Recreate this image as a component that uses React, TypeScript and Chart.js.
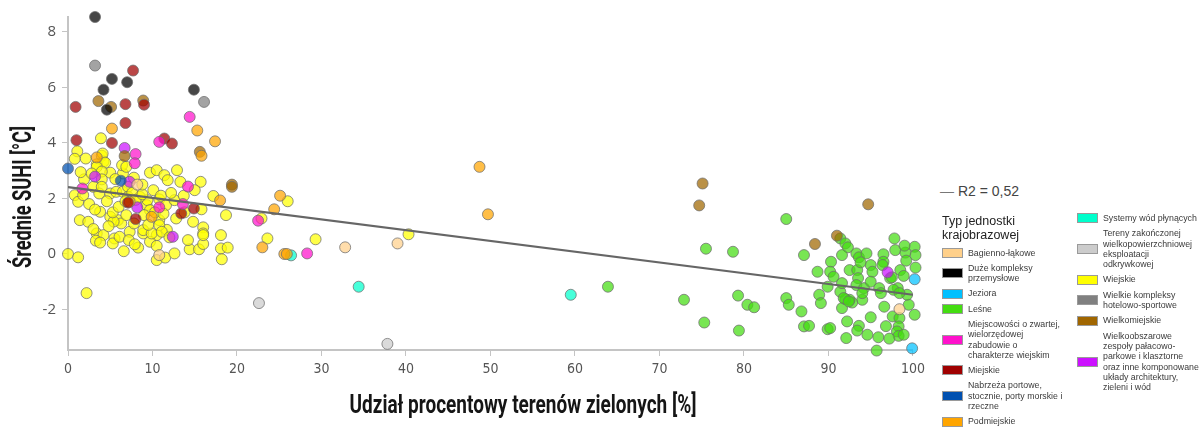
import React, { useEffect, useLayoutEffect, useRef } from "react";
import { Chart, registerables } from "chart.js";

Chart.register(...registerables);

// ---------- data ----------
const xTickValues = [0, 10, 20, 30, 40, 50, 60, 70, 80, 90, 100];
const yTickValues = [-2, 0, 2, 4, 6, 8];
const xTitle = "Udział procentowy terenów zielonych [%]";
const yTitle = "Średnie SUHI [°C]";
const trendLabel = "R2 = 0,52";
const trendX = [0, 100];
const trendY = [2.41, -1.47];

const bagiennoLakowe = [[8.2, 2.5], [10.8, -0.04], [32.8, 0.24], [39.0, 0.38], [98.4, -1.99]];
const duzeKompleksy = [[3.2, 8.54], [5.2, 6.31], [7.0, 6.19], [4.2, 5.92], [4.6, 5.2], [14.9, 5.92]];
const jeziora = [[100.2, -0.91], [99.9, -3.4]];
const lesne = [
  [75.5, 0.19], [78.7, 0.08], [63.9, -1.18], [72.9, -1.65], [79.3, -1.5], [75.3, -2.47], [79.4, -2.76],
  [80.4, -1.83], [81.2, -1.92], [85.0, 1.26], [91.4, 0.56], [92.0, 0.38], [92.3, 0.24], [87.1, -0.04],
  [85.0, -1.59], [85.3, -1.83], [86.8, -2.07], [87.1, -2.61], [87.7, -2.59], [89.9, -2.71], [92.1, -3.03],
  [95.7, -3.48], [97.8, 0.56], [100.2, 0.26], [100.3, -0.04], [100.3, -0.49], [100.2, -2.19], [99.5, -1.83],
  [97.9, 0.14], [99.1, 0.05], [99.2, -0.24], [96.5, -0.01], [96.5, -0.28], [97.3, -0.87], [98.5, -0.58],
  [98.9, -0.79], [98.2, -1.23], [99.3, -1.47], [97.6, -2.25], [98.4, -2.31], [98.3, -2.61], [98.1, -2.79],
  [98.3, -2.95], [98.9, -2.91], [96.6, -1.9], [95.0, -2.28], [95.9, -3.0], [94.6, -2.91], [93.6, -2.59],
  [93.4, -2.76], [92.2, -2.43], [90.2, -2.67], [94.0, -1.65], [92.8, -1.75], [91.6, -1.95], [92.5, -1.65],
  [92.0, -1.63], [91.4, -1.36], [90.3, -0.28], [90.2, -0.64], [90.6, -0.82], [91.6, -1.05], [91.6, -0.04],
  [93.3, 0.02], [93.6, -0.12], [94.5, 0.02], [92.5, -0.58], [93.4, -0.58], [93.5, -0.87], [93.3, -1.12],
  [94.2, -1.23], [94.0, -1.41], [95.0, -0.4], [95.2, -0.64], [95.0, -1.0], [96.0, -1.23], [96.2, -1.41],
  [96.4, -0.4], [97.5, -0.84], [97.7, -1.29], [98.4, -1.41], [88.7, -0.64], [89.9, -1.18], [88.9, -1.47],
  [89.1, -1.77], [91.8, -1.59], [92.4, -1.71], [93.8, -0.3], [99.0, 0.3], [96.8, -2.6], [97.2, -3.05]
];
const miejscowosci = [
  [14.4, 4.94], [10.8, 4.04], [8.0, 3.6], [7.9, 3.27], [1.7, 2.36], [14.2, 2.43], [10.8, 1.68],
  [13.6, 1.8], [22.5, 1.2], [28.3, 0.02]
];
const miejskie = [
  [7.7, 6.61], [0.9, 5.3], [6.8, 5.4], [9.0, 5.38], [6.8, 4.72], [1.0, 4.1], [5.2, 4.0], [11.4, 4.16],
  [12.3, 3.98], [7.1, 1.85], [13.4, 1.46], [14.9, 1.64], [8.0, 1.26]
];
const nabrzeza = [[0.0, 3.08], [6.25, 2.64]];
const podmiejskie = [
  [5.2, 4.52], [15.3, 4.45], [17.4, 4.06], [15.8, 3.54], [3.4, 3.48], [18.0, 1.93], [7.3, 1.88],
  [9.9, 1.34], [25.1, 2.1], [24.4, 1.61], [23.0, 0.24], [25.6, 0.0], [25.9, 0.0], [48.7, 3.14], [49.7, 1.43]
];
const systemyWod = [[26.4, -0.05], [34.4, -1.18], [59.5, -1.47]];
const terenyZakonczonej = [[22.6, -1.77], [37.8, -3.24]];
const wiejskie = [
  [1.1, 3.7], [0.8, 3.43], [2.1, 3.44], [3.9, 4.17], [4.0, 3.54], [4.2, 3.33], [3.4, 3.23], [4.1, 3.62],
  [4.4, 3.29], [3.4, 3.14], [5.0, 2.93], [4.0, 2.97], [6.5, 2.9], [6.4, 3.2], [6.9, 3.14], [4.0, 2.69],
  [9.7, 2.93], [10.5, 3.02], [11.4, 2.84], [11.8, 2.66], [12.9, 3.02], [15.7, 2.6], [17.2, 2.09], [18.7, 1.4],
  [1.9, 2.69], [0.8, 2.12], [1.2, 1.88], [1.8, 2.12], [3.0, 2.42], [3.7, 2.18], [4.0, 2.42], [5.0, 2.18],
  [5.7, 2.24], [6.5, 2.24], [7.1, 2.42], [7.1, 2.06], [10.1, 2.3], [10.8, 1.97], [11.6, 1.76], [9.3, 1.76],
  [9.4, 1.94], [12.6, 1.94], [15.8, 1.61], [14.8, 1.16], [16.0, 0.96], [16.0, 0.74], [12.8, 1.28], [3.8, 1.52],
  [5.0, 1.34], [5.9, 1.22], [1.4, 1.22], [2.4, 1.16], [3.4, 0.74], [4.2, 0.68], [6.3, 1.1], [6.9, 1.4],
  [8.5, 2.06], [9.7, 1.58], [10.8, 1.22], [7.3, 0.8], [8.9, 0.74], [10.5, 0.68], [11.7, 0.87], [5.5, 0.56],
  [0.0, 0.0], [1.2, -0.12], [2.2, -1.41], [3.3, 0.48], [3.8, 0.41], [5.3, 0.38], [6.1, 0.62], [7.2, 0.5],
  [8.3, 0.23], [9.7, 0.44], [10.5, 0.29], [10.5, -0.22], [11.5, -0.13], [12.6, 0.02], [14.4, 0.17],
  [15.5, 0.17], [16.0, 0.36], [16.0, 0.68], [18.1, 0.68], [18.1, 0.2], [18.9, 0.23], [18.2, -0.19],
  [5.4, 1.17], [8.9, 0.86], [9.9, 0.74], [10.8, 1.04], [11.1, 0.8], [22.9, 1.28], [26.0, 1.9], [23.6, 0.56],
  [29.3, 0.53], [40.3, 0.71], [2.5, 1.8], [3.2, 1.6], [4.6, 1.9], [5.3, 1.5], [6.0, 1.7], [6.8, 1.9],
  [7.6, 2.2], [8.0, 1.95], [8.8, 2.15], [9.0, 1.4], [10.3, 1.5], [11.0, 2.1], [12.2, 2.2], [13.3, 2.6],
  [2.8, 2.9], [5.6, 2.7], [7.8, 2.75], [8.8, 2.5], [1.5, 2.95], [3.0, 0.9], [4.8, 1.0], [7.8, 1.1],
  [9.5, 1.05], [13.8, 1.5], [14.2, 0.5], [15.0, 2.3], [13.7, 2.1], [11.3, 1.45], [12.0, 0.6], [7.9, 0.35],
  [6.6, 0.1]
];
const hotelowoSportowe = [[3.2, 6.79], [16.1, 5.48]];
const wielkomiejskie = [
  [3.6, 5.51], [5.1, 5.3], [8.9, 5.53], [6.7, 3.53], [15.6, 3.68], [19.4, 2.5], [19.4, 2.42],
  [75.1, 2.54], [74.7, 1.75], [94.7, 1.79], [91.0, 0.66], [88.4, 0.36]
];
const wielkoobszarowe = [[7.3, 2.6], [8.2, 1.68], [12.4, 0.62], [97.0, -0.66], [6.7, 3.82], [3.2, 2.79]];

const leftLegendLabels = [
  "Bagienno-łąkowe",
  "Duże kompleksy\nprzemysłowe",
  "Jeziora",
  "Leśne",
  "Miejscowości o zwartej,\nwielorzędowej\nzabudowie o\ncharakterze wiejskim",
  "Miejskie",
  "Nabrzeża portowe,\nstocznie, porty morskie i\nrzeczne",
  "Podmiejskie",
];
const rightLegendLabels = [
  "Systemy wód płynących",
  "Tereny zakończonej\nwielkopowierzchniowej\neksploatacji\nodkrywkowej",
  "Wiejskie",
  "Wielkie kompleksy\nhotelowo-sportowe",
  "Wielkomiejskie",
  "Wielkoobszarowe\nzespoły pałacowo-\nparkowe i klasztorne\noraz inne komponowane\nukłady architektury,\nzieleni i wód",
];
const leftColors = ["#FFD08A", "#000000", "#00C0FF", "#44DD11", "#FF11CC", "#A00000", "#0050B0", "#FFA500"];
const rightColors = ["#00FFCC", "#CCCCCC", "#FFFF00", "#808080", "#A06600", "#CC11FF"];
const leftSeries = [bagiennoLakowe, duzeKompleksy, jeziora, lesne, miejscowosci, miejskie, nabrzeza, podmiejskie];
const rightSeries = [systemyWod, terenyZakonczonej, wiejskie, hotelowoSportowe, wielkomiejskie, wielkoobszarowe];
const legendTitle = "Typ jednostki\nkrajobrazowej";

function hexA(hex: string, a: number) {
  const r = parseInt(hex.slice(1, 3), 16);
  const g = parseInt(hex.slice(3, 5), 16);
  const b = parseInt(hex.slice(5, 7), 16);
  return `rgba(${r},${g},${b},${a})`;
}

const TITLE_FONT = "Roboto, 'Liberation Sans', sans-serif";
const X_TITLE_WIDTH = 347;
const Y_TITLE_WIDTH = 142;

export default function App() {
  const ref = useRef<HTMLCanvasElement | null>(null);
  const xTitleRef = useRef<HTMLSpanElement | null>(null);
  const yTitleRef = useRef<HTMLSpanElement | null>(null);

  useLayoutEffect(() => {
    const fit = () => {
      const xs = xTitleRef.current;
      const ys = yTitleRef.current;
      if (xs) {
        const k = X_TITLE_WIDTH / xs.offsetWidth;
        xs.style.transform = `translate(-50%, -50%) scaleX(${k})`;
      }
      if (ys) {
        const k = Y_TITLE_WIDTH / ys.offsetWidth;
        ys.style.transform = `translate(-50%, -50%) rotate(-90deg) scaleX(${k})`;
      }
    };
    fit();
    if ((document as any).fonts && (document as any).fonts.ready) {
      (document as any).fonts.ready.then(fit);
    }
  }, []);

  useEffect(() => {
    if (!ref.current) return;
    const labels = [...leftLegendLabels, ...rightLegendLabels];
    const colors = [...leftColors, ...rightColors];
    const series = [...leftSeries, ...rightSeries];
    const scatterSets = series.map((s, i) => ({
      type: "scatter" as const,
      label: labels[i],
      data: s.map(([x, y]) => ({ x, y })),
      backgroundColor: hexA(colors[i], 0.72),
      borderColor: "rgba(110,110,110,0.75)",
      borderWidth: 1,
      pointRadius: 5.5,
      pointHoverRadius: 5.5,
      clip: false as any,
      order: labels[i] === "Wiejskie" || labels[i] === "Leśne" ? 3 : 2,
    }));
    const trend = {
      type: "line" as const,
      label: trendLabel,
      data: trendX.map((x, i) => ({ x, y: trendY[i] })),
      borderColor: "#666666",
      borderWidth: 2.2,
      pointRadius: 0,
      fill: false,
      order: 0,
    };
    const chart = new Chart(ref.current, {
      type: "scatter",
      data: { datasets: [trend as any, ...scatterSets] },
      options: {
        animation: false,
        responsive: false,
        devicePixelRatio: 1,
        layout: { padding: { top: 17, right: 14, left: 0, bottom: 0 } },
        plugins: { legend: { display: false }, tooltip: { enabled: false } },
        scales: {
          x: {
            type: "linear",
            min: 0,
            max: 100,
            afterBuildTicks: (s: any) => { s.ticks = xTickValues.map((v) => ({ value: v })); },
            afterFit: (s: any) => { s.height = 80; },
            border: { display: true, color: "#c4c4c4", width: 2 },
            grid: { drawOnChartArea: false, drawTicks: true, tickLength: 6, color: "#c4c4c4" },
            ticks: { color: "#555", padding: 5, font: { family: "'DejaVu Sans Condensed', Roboto, sans-serif", size: 14 } },
            title: { display: false },
          },
          y: {
            type: "linear",
            min: -3.46,
            max: 8.54,
            afterBuildTicks: (s: any) => { s.ticks = yTickValues.map((v) => ({ value: v })); },
            afterFit: (s: any) => { s.width = 68; },
            border: { display: true, color: "#c4c4c4", width: 2 },
            grid: { drawOnChartArea: false, drawTicks: true, tickLength: 6, color: "#c4c4c4" },
            ticks: { color: "#555", padding: 6, font: { family: "'Open Sans', 'Liberation Sans', sans-serif", size: 15 } },
            title: { display: false },
          },
        },
      },
    });
    return () => chart.destroy();
  }, []);

  const itemStyle: React.CSSProperties = {
    display: "flex",
    alignItems: "center",
    marginBottom: 5,
  };
  const swatch = (c: string): React.CSSProperties => ({
    width: 19,
    height: 8,
    background: c,
    border: "1px solid #9a9a9a",
    flex: "0 0 auto",
    marginRight: 5,
  });
  const textStyle: React.CSSProperties = {
    whiteSpace: "pre-line",
    fontSize: 8.8,
    lineHeight: "10.3px",
    color: "#3a3a3a",
  };
  const titleStyle: React.CSSProperties = {
    position: "absolute",
    whiteSpace: "nowrap",
    fontFamily: TITLE_FONT,
    fontWeight: 700,
    fontSize: 26,
    lineHeight: "30px",
    color: "#151515",
    transformOrigin: "50% 50%",
    display: "inline-block",
  };

  return (
    <div style={{ position: "fixed", left: 0, top: 0, width: 1200, height: 430, background: "#fff", fontFamily: "'Liberation Sans', Arial, sans-serif" }}>
      <canvas ref={ref} width={930} height={430} style={{ position: "absolute", left: 0, top: 0, width: 930, height: 430 }} />
      <span ref={xTitleRef} style={{ ...titleStyle, left: 523, top: 404, transform: "translate(-50%, -50%)" }}>{xTitle}</span>
      <span ref={yTitleRef} style={{ ...titleStyle, left: 22, top: 197, transform: "translate(-50%, -50%) rotate(-90deg)" }}>{yTitle}</span>
      <div style={{ position: "absolute", left: 940, top: 183, fontSize: 14, color: "#444", whiteSpace: "nowrap" }}>
        <span style={{ color: "#777" }}>—</span> {trendLabel}
      </div>
      <div style={{ position: "absolute", left: 942, top: 213.5, fontSize: 12.5, lineHeight: "14.7px", color: "#222", whiteSpace: "pre-line" }}>
        {legendTitle}
      </div>
      <div style={{ position: "absolute", left: 942, top: 247.5 }}>
        {leftLegendLabels.map((l, i) => (
          <div key={l} style={itemStyle}>
            <div style={swatch(leftColors[i])} />
            <div style={textStyle}>{l}</div>
          </div>
        ))}
      </div>
      <div style={{ position: "absolute", left: 1077, top: 213 }}>
        {rightLegendLabels.map((l, i) => (
          <div key={l} style={itemStyle}>
            <div style={swatch(rightColors[i])} />
            <div style={textStyle}>{l}</div>
          </div>
        ))}
      </div>
    </div>
  );
}
